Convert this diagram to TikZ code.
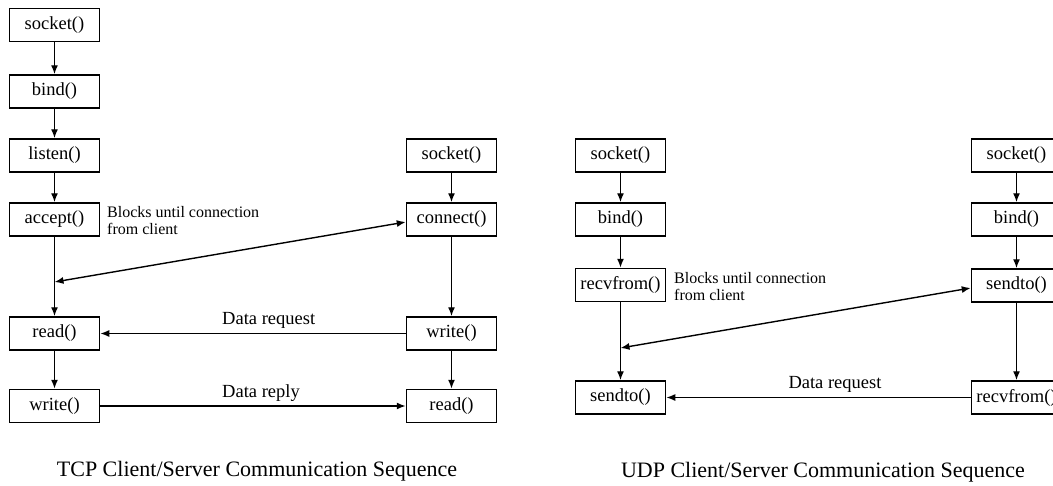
\documentclass[tikz,border=0pt]{standalone}
\usepackage{fontspec}
\setmainfont{Liberation Serif}
\usetikzlibrary{arrows.meta}
\begin{document}
\begin{tikzpicture}[x=1pt,y=-1pt,
  fn/.style={draw, line width=1.5pt, minimum width=90pt, minimum height=33pt, inner sep=0pt,
    font=\fontsize{18.5}{20}\selectfont},
  arr/.style={line width=1.4pt, -{Latex[length=9pt,width=7pt]}},
  biarr/.style={line width=1.4pt, {Latex[length=9pt,width=7pt]}-{Latex[length=9pt,width=7pt]}},
  lbl/.style={font=\fontsize{18.5}{20}\selectfont, inner sep=0pt},
  note/.style={font=\fontsize{16}{17}\selectfont, align=left, inner sep=0pt, anchor=north west},
  captext/.style={font=\fontsize{22}{24}\selectfont, inner sep=0pt}]
\useasboundingbox[fill=white] (0,0) rectangle (1053,485);
\clip (0,0) rectangle (1053,485);
% TCP server
\node[fn] (ts1) at (54.5,25) {socket()};
\node[fn] (ts2) at (54.5,91.5) {bind()};
\node[fn] (ts3) at (54.5,155.5) {listen()};
\node[fn] (ts4) at (54.5,219.5) {accept()};
\node[fn] (ts5) at (54.5,333.5) {read()};
\node[fn] (ts6) at (54.5,406) {write()};
\node[note] (tn) at (107,206) {Blocks until connection\\from client};
% TCP client
\node[fn] (tc1) at (451.5,155.5) {socket()};
\node[fn] (tc2) at (451.5,219.5) {connect()};
\node[fn] (tc3) at (451.5,333.5) {write()};
\node[fn] (tc4) at (451.5,406) {read()};
\coordinate (tj) at (54.5,282);
\draw[arr] (ts1) -- (ts2);
\draw[arr] (ts2) -- (ts3);
\draw[arr] (ts3) -- (ts4);
\draw[arr] (ts4) -- (ts5);
\draw[arr] (ts5) -- (ts6);
\draw[arr] (tc1) -- (tc2);
\draw[arr] (tc2) -- (tc3);
\draw[arr] (tc3) -- (tc4);
\draw[biarr] (tc2.west |- 0,222) -- (tj);
\draw[arr] (tc3) -- (ts5);
\draw[arr] (ts6) -- (tc4);
\node[lbl, anchor=west] (tl1) at (222,320) {Data request};
\node[lbl, anchor=west] (tl2) at (222,393) {Data reply};
\node[captext] (tcap) at (257,471) {TCP Client/Server Communication Sequence};
% UDP server
\node[fn] (us1) at (620.5,155.5) {socket()};
\node[fn] (us2) at (620.5,219.5) {bind()};
\node[fn] (us3) at (620.5,285) {recvfrom()};
\node[fn] (us4) at (620.5,397.5) {sendto()};
\node[note] (un) at (674,272) {Blocks until connection\\from client};
% UDP client
\node[fn] (uc1) at (1016.5,155.5) {socket()};
\node[fn] (uc2) at (1016.5,219.5) {bind()};
\node[fn] (uc3) at (1016.5,285.5) {sendto()};
\node[fn] (uc4) at (1016.5,397.5) {recvfrom()};
\coordinate (uj) at (620.5,348);
\draw[arr] (us1) -- (us2);
\draw[arr] (us2) -- (us3);
\draw[arr] (us3) -- (us4);
\draw[arr] (uc1) -- (uc2);
\draw[arr] (uc2) -- (uc3);
\draw[arr] (uc3) -- (uc4);
\draw[biarr] (uc3.west |- 0,288) -- (uj);
\draw[arr] (uc4) -- (us4);
\node[lbl] (ul1) at (835,384) {Data request};
\node[captext] (ucap) at (823,472) {UDP Client/Server Communication Sequence};
\end{tikzpicture}
\end{document}
